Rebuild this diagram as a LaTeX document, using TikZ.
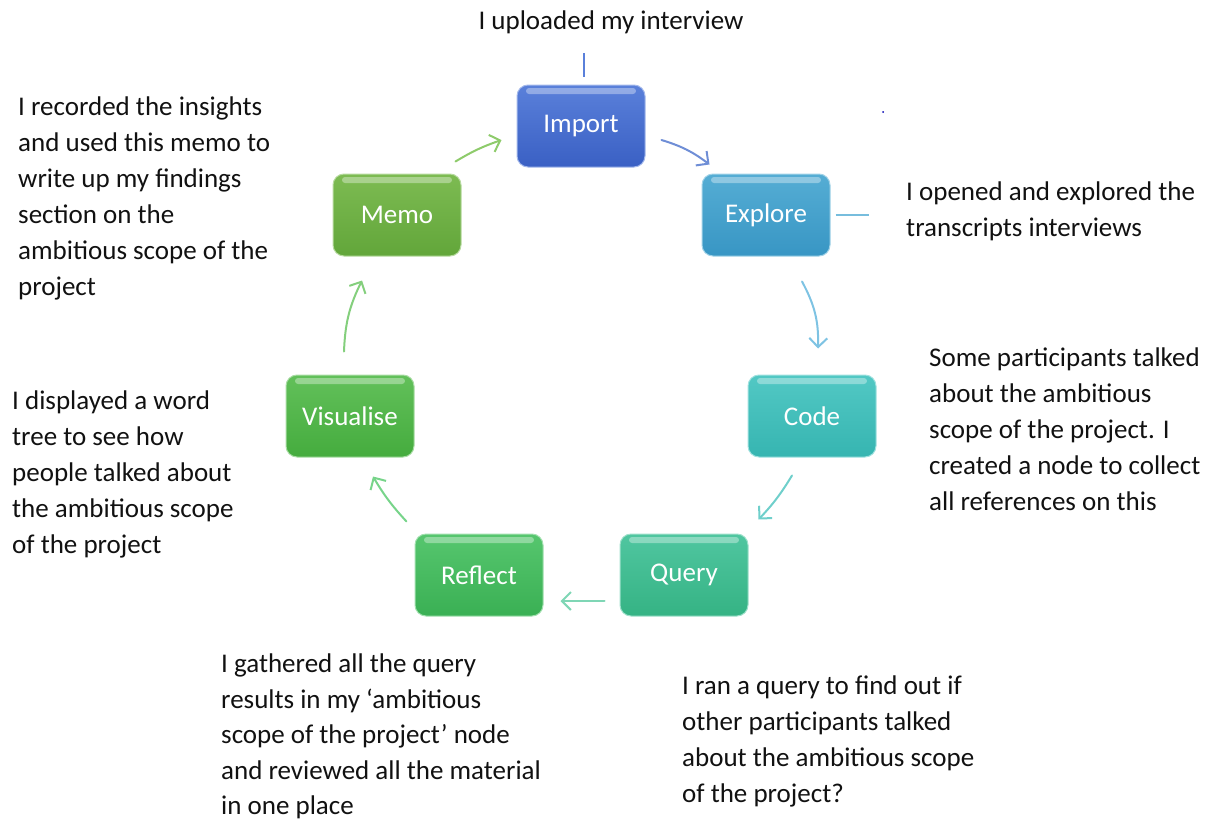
\documentclass[tikz,border=0pt]{standalone}
\usepackage{fontspec}
\setmainfont{Carlito}
\usetikzlibrary{arrows.meta}
\definecolor{txt}{HTML}{111111}
\definecolor{impT}{HTML}{5A80DA}\definecolor{impB}{HTML}{3A60C4}
\definecolor{expT}{HTML}{55ADD4}\definecolor{expB}{HTML}{3896C4}
\definecolor{codT}{HTML}{52C8C4}\definecolor{codB}{HTML}{36B5B1}
\definecolor{qryT}{HTML}{50C6A0}\definecolor{qryB}{HTML}{35B384}
\definecolor{refT}{HTML}{56C66E}\definecolor{refB}{HTML}{3AB054}
\definecolor{visT}{HTML}{62C05A}\definecolor{visB}{HTML}{45AC3E}
\definecolor{memT}{HTML}{7DBB52}\definecolor{memB}{HTML}{62A63A}
\definecolor{a1}{HTML}{6F8ED6}
\definecolor{a2}{HTML}{7EC3E3}
\definecolor{a3}{HTML}{6FCFCB}
\definecolor{a4}{HTML}{7FD6B5}
\definecolor{a5}{HTML}{77D48A}
\definecolor{a6}{HTML}{84CF7D}
\definecolor{a7}{HTML}{8ECB6B}
\newcommand{\mytextfont}{\fontsize{27}{36}\selectfont}
\newcommand{\mytightfont}{\fontsize{27}{35.5}\selectfont}
\tikzset{
  stepbox/.style n args={2}{rectangle, rounded corners=11pt, minimum width=128pt,
    minimum height=82pt, inner sep=0pt, top color=#1, bottom color=#2,
    draw=#1!55!white, line width=1pt, text=white, font=\mytextfont,
    path picture={
      \fill[white,opacity=0.35,rounded corners=3pt]
        ([xshift=9pt,yshift=-3pt]path picture bounding box.north west) rectangle
        ([xshift=-9pt,yshift=-9pt]path picture bounding box.north east);
    }},
  note/.style={anchor=north west, inner sep=0pt, align=left, text=txt, font=\mytextfont},
  arr/.style={line width=2pt, draw=#1, -{Straight Barb[length=9pt,width=18pt,line width=2pt]}, line cap=round}
}
\begin{document}
\begin{tikzpicture}[x=1pt,y=-1pt]
\useasboundingbox (0,0) rectangle (1216,825);

\node[stepbox={impT}{impB}] (import) at (581,126) {Import};
\node[stepbox={expT}{expB}] (explore) at (766,215) {Explore};
\node[stepbox={codT}{codB}] (code) at (812,416) {Code};
\node[stepbox={qryT}{qryB}] (query) at (684,575) {Query};
\node[stepbox={refT}{refB}] (reflect) at (479,575) {Reflect};
\node[stepbox={visT}{visB}] (visualise) at (350,416) {Visualise};
\node[stepbox={memT}{memB}] (memo) at (397,215) {Memo};

\draw[arr=a1] ([shift={(16,14)}]import.east) to[bend left=10] ([shift={(8,-9)}]explore.north west);
\draw[arr=a2] ([shift={(36,25)}]explore.south) to[bend left=15] ([shift={(6,-26)}]code.north);
\draw[arr=a3] ([shift={(-20,18)}]code.south) to[bend left=6] ([shift={(10,-14)}]query.north east);
\draw[arr=a4] ([shift={(-15,26)}]query.west) -- ([shift={(17,26)}]reflect.east);
\draw[arr=a5] ([shift={(-8,-12)}]reflect.north west) to[bend left=6] ([shift={(23,19)}]visualise.south);
\draw[arr=a6] ([shift={(-6,-23)}]visualise.north) to[bend left=12] ([shift={(-35,24)}]memo.south);
\draw[arr=a7] ([shift={(-6,-12)}]memo.north east) to[bend left=6] ([shift={(-15,14)}]import.west);

\draw[line width=2pt, draw=impT] ([shift={(3,-8)}]import.north) -- ([shift={(3,-32)}]import.north);
\draw[line width=2pt, draw=expT!80!white] ([xshift=5pt]explore.east) -- ([xshift=38pt]explore.east);
\fill[blue!70!black] (883,112) circle (1pt);

\node[note, anchor=north] (t0) at (611,11) {I uploaded my interview};
\node[note] (t1) at (18,97) {I recorded the insights\\and used this memo to\\write up my findings\\section on the\\ambitious scope of the\\project};
\node[note] (t2) at (906,182) {I opened and explored the\\transcripts interviews};
\node[note] (t3) at (929,348) {Some participants talked\\about the ambitious\\scope of the project. I\\created a node to collect\\all references on this};
\node[note] (t4) at (12,391) {I displayed a word\\tree to see how\\people talked about\\the ambitious scope\\of the project};
\node[note, font=\mytightfont] (t5) at (221,654) {I gathered all the query\\results in my ‘ambitious\\scope of the project’ node\\and reviewed all the material\\in one place};
\node[note] (t6) at (682,676) {I ran a query to find out if\\other participants talked\\about the ambitious scope\\of the project?};
\end{tikzpicture}
\end{document}
